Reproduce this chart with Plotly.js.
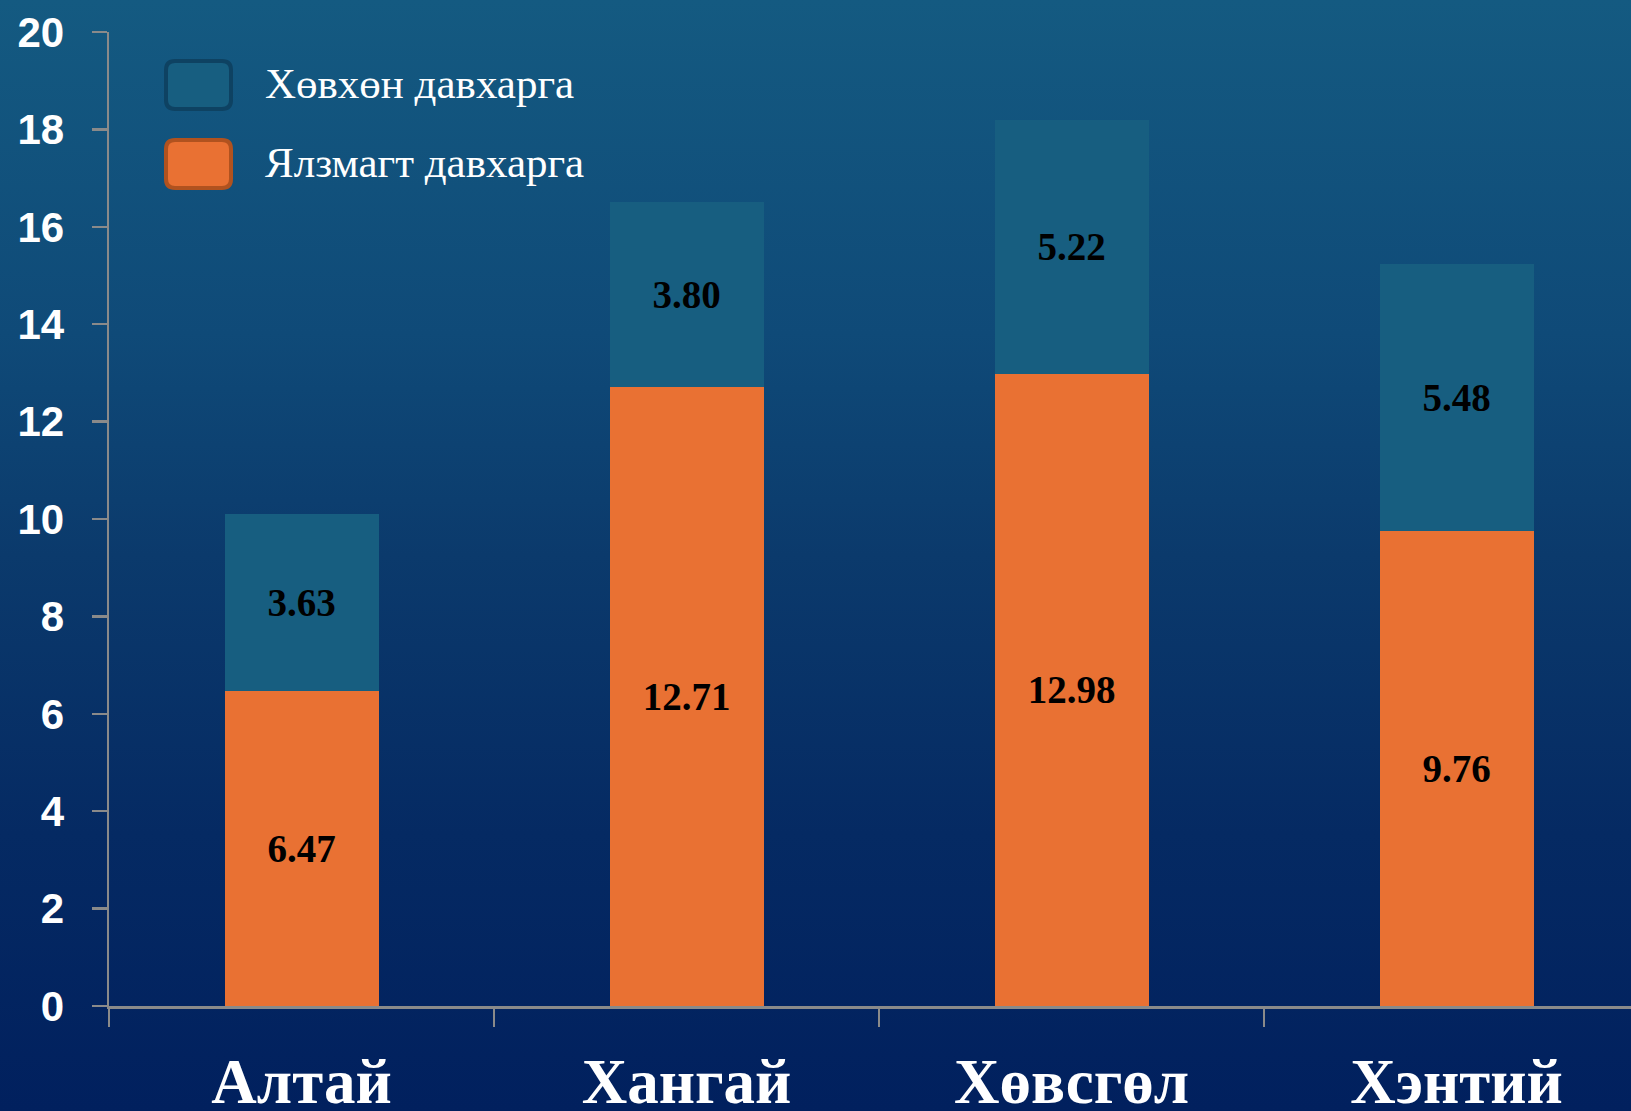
<!DOCTYPE html>
<html>
<head>
<meta charset="utf-8">
<script src="https://cdn.plot.ly/plotly-3.0.1.min.js"></script>
<style>
  html, body { margin: 0; padding: 0; }
  body { width: 1631px; height: 1111px; overflow: hidden;
         background: linear-gradient(to bottom, #145a81 0%, #0f4a78 30%, #0b3a6c 50%, #052a63 75%, #01205e 100%); }
  #chart { width: 1631px; height: 1111px; }
</style>
</head>
<body>
<div id="chart"></div>
<script>
// ---- data ----
const categories = ["Алтай", "Хангай", "Хөвсгөл", "Хэнтий"];
const seriesNames = ["Ялзмагт давхарга", "Хөвхөн давхарга"];
const humusLayer = [6.47, 12.71, 12.98, 9.76];   // Ялзмагт давхарга (orange, bottom)
const spongyLayer = [3.63, 3.80, 5.22, 5.48];    // Хөвхөн давхарга (blue, top)
const yTickVals = [0, 2, 4, 6, 8, 10, 12, 14, 16, 18, 20];

// ---- style ----
const W = 1631, H = 1111;
const M = { l: 109, r: 0, t: 32, b: 105 };
const plotW = W - M.l - M.r, plotH = H - M.t - M.b;
const catPx = 385;
const orange = "#E97133", orangeEdge = "#B0521F";
const blue = "#175E80", blueEdge = "#0E4262";
const axisGrey = "#8a8a8a";

const labelFont = { family: "Liberation Serif, Times New Roman, serif", size: 39, color: "#000000", weight: "bold" };

const traces = [
  {
    type: "bar", name: seriesNames[0], x: categories, y: humusLayer,
    marker: { color: orange, line: { width: 0 } },
    texttemplate: "%{y:.2f}", textposition: "inside", insidetextanchor: "middle",
    textangle: 0, textfont: labelFont, constraintext: "none", hoverinfo: "skip"
  },
  {
    type: "bar", name: seriesNames[1], x: categories, y: spongyLayer,
    marker: { color: blue, line: { width: 0 } },
    texttemplate: "%{y:.2f}", textposition: "inside", insidetextanchor: "middle",
    textangle: 0, textfont: labelFont, constraintext: "none", hoverinfo: "skip"
  }
];

// pixel -> paper helpers
const px = v => (v - M.l) / plotW;
const py = v => (H - M.b - v) / plotH;
function roundRect(x0, y0, x1, y1, r) {
  const X0 = px(x0), X1 = px(x1), Y0 = py(y0), Y1 = py(y1);
  const rx = r / plotW, ry = r / plotH;
  return `M${X0 + rx},${Y0} L${X1 - rx},${Y0} Q${X1},${Y0} ${X1},${Y0 - ry} ` +
         `L${X1},${Y1 + ry} Q${X1},${Y1} ${X1 - rx},${Y1} L${X0 + rx},${Y1} ` +
         `Q${X0},${Y1} ${X0},${Y1 + ry} L${X0},${Y0 - ry} Q${X0},${Y0} ${X0 + rx},${Y0} Z`;
}

const legendItems = [
  { name: seriesNames[1], fill: blue, edge: blueEdge, top: 61, bottom: 109, textY: 83 },
  { name: seriesNames[0], fill: orange, edge: orangeEdge, top: 140, bottom: 188, textY: 162 }
];

const shapes = legendItems.map(it => ({
  type: "path", xref: "paper", yref: "paper",
  path: roundRect(166, it.top, 231, it.bottom, 9),
  fillcolor: it.fill, line: { color: it.edge, width: 4 }, layer: "above"
}));

const annotations = legendItems.map(it => ({
  xref: "paper", yref: "paper", x: px(263), y: py(it.textY),
  xanchor: "left", yanchor: "middle", showarrow: false, text: it.name,
  font: { family: "Liberation Serif, Times New Roman, serif", size: 43, color: "#ffffff" }
}));

const layout = {
  width: W, height: H, margin: M,
  paper_bgcolor: "rgba(0,0,0,0)", plot_bgcolor: "rgba(0,0,0,0)",
  barmode: "stack", bargap: 0.6, showlegend: false,
  xaxis: {
    type: "category", range: [-0.5, -0.5 + plotW / catPx],
    showgrid: false, zeroline: false,
    showline: true, linecolor: axisGrey, linewidth: 3,
    ticks: "outside", tickson: "boundaries", ticklen: 18, tickwidth: 2, tickcolor: axisGrey,
    tickfont: { family: "Liberation Serif, Times New Roman, serif", size: 63, color: "#ffffff", weight: "bold" },
    ticklabelstandoff: 18
  },
  yaxis: {
    range: [0, 20], tickvals: yTickVals, ticktext: yTickVals.map(String),
    showgrid: false, zeroline: false,
    showline: true, linecolor: axisGrey, linewidth: 2.5,
    ticks: "outside", ticklen: 15, tickwidth: 2.5, tickcolor: axisGrey,
    tickfont: { family: "Liberation Sans, Arial, sans-serif", size: 42, color: "#ffffff", weight: "bold" },
    ticklabelstandoff: 19
  },
  shapes: shapes,
  annotations: annotations
};

Plotly.newPlot("chart", traces, layout, { staticPlot: true, displayModeBar: false });
</script>
</body>
</html>
